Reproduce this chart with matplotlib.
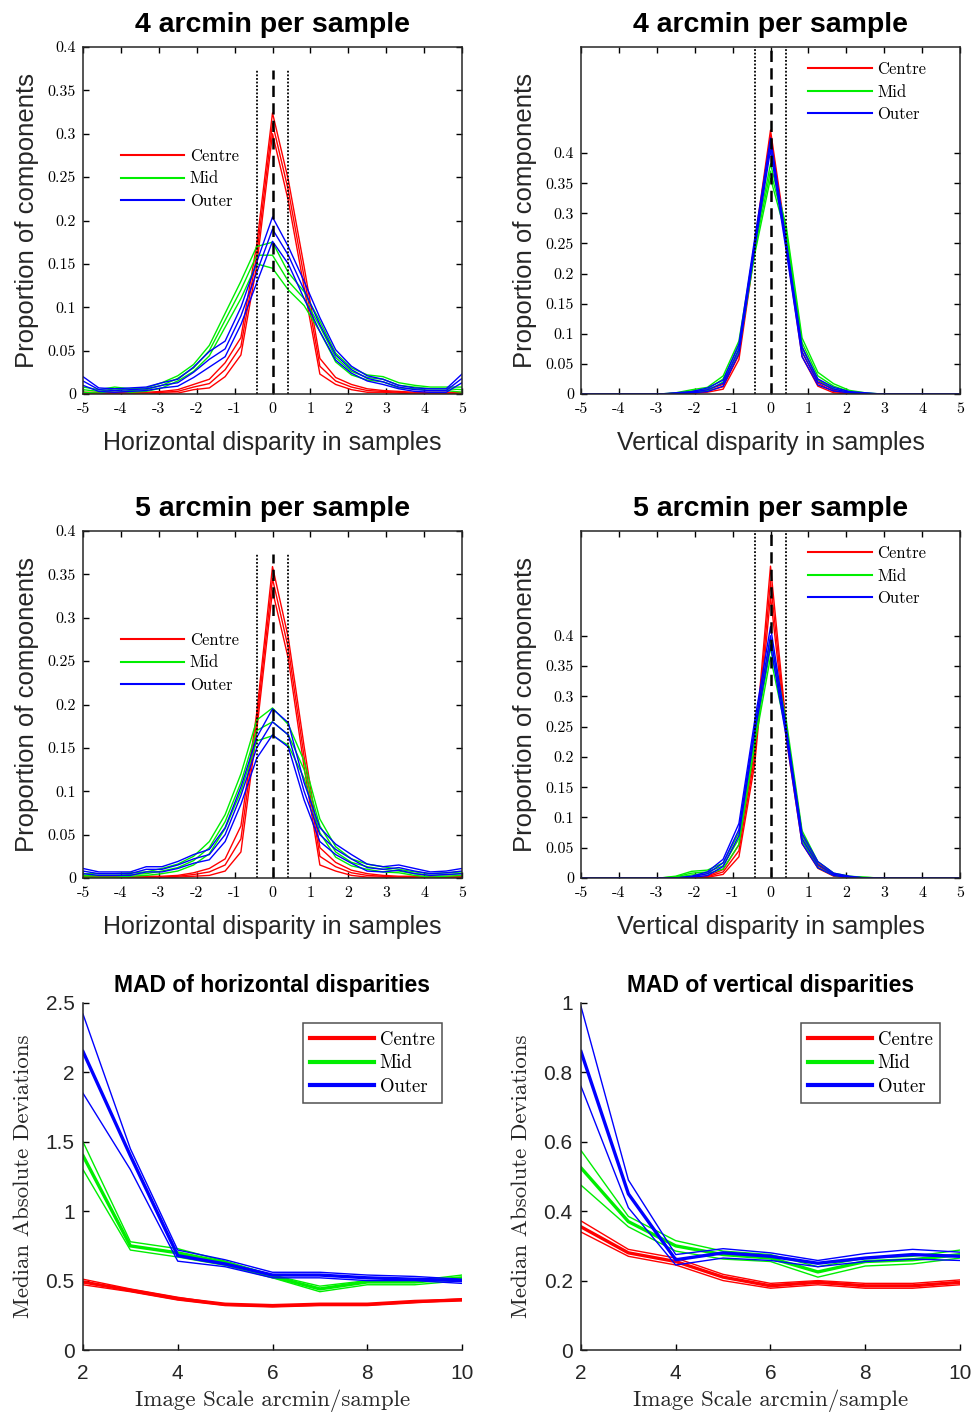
import numpy as np
import matplotlib
matplotlib.use('Agg')
import matplotlib.pyplot as plt

plt.rcParams['axes.unicode_minus'] = False

# ── Disparity histograms: 25 bins from -5 to 5 samples ────────────────────────
BIN_CENTRES = np.linspace(-5, 5, 25)
GROUPS = ['Centre', 'Mid', 'Outer']
COLORS = {'Centre': '#ff0000', 'Mid': '#00ee00', 'Outer': '#0000ff'}

# horizontal, 4 arcmin/sample
H4_CENTRE = [0.001, 0.001, 0.001, 0.001, 0.001, 0.002, 0.003, 0.008, 0.012, 0.028, 0.055, 0.160,
             0.312, 0.235, 0.135, 0.032, 0.015, 0.008, 0.004, 0.003, 0.002, 0.001, 0.001, 0.001, 0.001]
H4_CENTRE_ERR = [0.001, 0.001, 0.001, 0.001, 0.001, 0.001, 0.002, 0.003, 0.005, 0.008, 0.010, 0.012,
                 0.012, 0.012, 0.012, 0.009, 0.004, 0.003, 0.002, 0.001, 0.001, 0.001, 0.001, 0.001, 0.001]
H4_MID = [0.005, 0.003, 0.006, 0.004, 0.005, 0.010, 0.018, 0.030, 0.050, 0.085, 0.120, 0.160,
          0.160, 0.130, 0.110, 0.078, 0.042, 0.026, 0.019, 0.017, 0.010, 0.008, 0.006, 0.006, 0.005]
H4_MID_ERR = [0.003, 0.002, 0.002, 0.002, 0.002, 0.003, 0.003, 0.004, 0.006, 0.008, 0.010, 0.010,
              0.015, 0.010, 0.008, 0.006, 0.005, 0.004, 0.003, 0.003, 0.003, 0.002, 0.002, 0.002, 0.003]
H4_OUTER = [0.015, 0.005, 0.004, 0.005, 0.006, 0.010, 0.013, 0.025, 0.040, 0.052, 0.090, 0.140,
            0.190, 0.160, 0.120, 0.080, 0.045, 0.028, 0.018, 0.014, 0.008, 0.005, 0.004, 0.004, 0.018]
H4_OUTER_ERR = [0.005, 0.002, 0.002, 0.002, 0.002, 0.003, 0.004, 0.006, 0.009, 0.009, 0.010, 0.012,
                0.014, 0.010, 0.010, 0.008, 0.006, 0.004, 0.003, 0.003, 0.002, 0.002, 0.002, 0.002, 0.005]

# vertical, 4 arcmin/sample
V4_CENTRE = [0, 0, 0, 0, 0, 0, 0.001, 0.002, 0.005, 0.012, 0.065, 0.245,
             0.430, 0.250, 0.070, 0.018, 0.004, 0.001, 0, 0, 0, 0, 0, 0, 0]
V4_CENTRE_ERR = [0, 0, 0, 0, 0, 0, 0, 0.001, 0.002, 0.004, 0.008, 0.008,
                 0.008, 0.008, 0.008, 0.005, 0.002, 0.001, 0, 0, 0, 0, 0, 0, 0]
V4_MID = [0, 0, 0, 0, 0, 0, 0.001, 0.005, 0.008, 0.025, 0.080, 0.240,
          0.370, 0.270, 0.085, 0.030, 0.013, 0.004, 0.001, 0, 0, 0, 0, 0, 0]
V4_MID_ERR = [0, 0, 0, 0, 0, 0, 0.001, 0.002, 0.003, 0.005, 0.008, 0.008,
              0.012, 0.008, 0.008, 0.006, 0.004, 0.002, 0.001, 0, 0, 0, 0, 0, 0]
V4_OUTER = [0, 0, 0, 0, 0, 0, 0.001, 0.003, 0.007, 0.018, 0.075, 0.250,
            0.415, 0.245, 0.070, 0.020, 0.008, 0.003, 0.001, 0, 0, 0, 0, 0, 0]
V4_OUTER_ERR = [0, 0, 0, 0, 0, 0, 0.001, 0.001, 0.003, 0.005, 0.008, 0.008,
                0.010, 0.008, 0.008, 0.005, 0.003, 0.001, 0.001, 0, 0, 0, 0, 0, 0]

# horizontal, 5 arcmin/sample
H5_CENTRE = [0.001, 0.001, 0.001, 0.001, 0.001, 0.001, 0.002, 0.004, 0.007, 0.015, 0.045, 0.180,
             0.345, 0.265, 0.140, 0.025, 0.013, 0.006, 0.003, 0.002, 0.001, 0.001, 0.001, 0.001, 0.001]
H5_CENTRE_ERR = [0.001, 0.001, 0.001, 0.001, 0.001, 0.001, 0.001, 0.002, 0.004, 0.007, 0.015, 0.010,
                 0.014, 0.012, 0.012, 0.010, 0.005, 0.003, 0.002, 0.001, 0.001, 0.001, 0.001, 0.001, 0.001]
H5_MID = [0.003, 0.003, 0.003, 0.004, 0.005, 0.008, 0.012, 0.020, 0.035, 0.065, 0.110, 0.170,
          0.180, 0.165, 0.125, 0.060, 0.030, 0.018, 0.013, 0.010, 0.008, 0.005, 0.003, 0.004, 0.005]
H5_MID_ERR = [0.002, 0.002, 0.002, 0.002, 0.002, 0.003, 0.004, 0.005, 0.007, 0.008, 0.010, 0.012,
              0.016, 0.012, 0.010, 0.008, 0.006, 0.004, 0.003, 0.003, 0.002, 0.002, 0.002, 0.002, 0.002]
H5_OUTER = [0.008, 0.005, 0.005, 0.005, 0.010, 0.010, 0.015, 0.022, 0.027, 0.050, 0.095, 0.150,
            0.180, 0.165, 0.100, 0.050, 0.033, 0.022, 0.012, 0.010, 0.012, 0.008, 0.005, 0.006, 0.008]
H5_OUTER_ERR = [0.003, 0.002, 0.002, 0.002, 0.003, 0.003, 0.004, 0.005, 0.006, 0.008, 0.010, 0.012,
                0.015, 0.014, 0.010, 0.008, 0.006, 0.005, 0.004, 0.003, 0.003, 0.003, 0.002, 0.002, 0.003]

# vertical, 5 arcmin/sample
V5_CENTRE = [0, 0, 0, 0, 0, 0, 0, 0.001, 0.002, 0.010, 0.045, 0.200,
             0.490, 0.240, 0.065, 0.020, 0.005, 0.001, 0, 0, 0, 0, 0, 0, 0]
V5_CENTRE_ERR = [0, 0, 0, 0, 0, 0, 0, 0.001, 0.001, 0.004, 0.010, 0.012,
                 0.025, 0.010, 0.008, 0.004, 0.002, 0.001, 0, 0, 0, 0, 0, 0, 0]
V5_MID = [0, 0, 0, 0, 0, 0, 0.002, 0.008, 0.010, 0.020, 0.065, 0.230,
          0.380, 0.250, 0.070, 0.022, 0.006, 0.002, 0.001, 0, 0, 0, 0, 0, 0]
V5_MID_ERR = [0, 0, 0, 0, 0, 0, 0.001, 0.003, 0.003, 0.005, 0.010, 0.010,
              0.015, 0.010, 0.008, 0.005, 0.002, 0.001, 0, 0, 0, 0, 0, 0, 0]
V5_OUTER = [0, 0, 0, 0, 0, 0, 0, 0.002, 0.007, 0.025, 0.080, 0.250,
            0.400, 0.240, 0.065, 0.022, 0.006, 0.002, 0, 0, 0, 0, 0, 0, 0]
V5_OUTER_ERR = [0, 0, 0, 0, 0, 0, 0, 0.001, 0.003, 0.006, 0.010, 0.010,
                0.015, 0.008, 0.008, 0.005, 0.002, 0.001, 0, 0, 0, 0, 0, 0, 0]

# ── MAD vs image scale ────────────────────────────────────────────────────────
SCALES = [2, 3, 4, 5, 6, 7, 8, 9, 10]

MADH_CENTRE     = [0.49, 0.43, 0.37, 0.33, 0.32, 0.33, 0.33, 0.35, 0.36]
MADH_CENTRE_LO  = [0.47, 0.42, 0.36, 0.32, 0.31, 0.32, 0.32, 0.34, 0.36]
MADH_CENTRE_HI  = [0.51, 0.44, 0.38, 0.33, 0.32, 0.33, 0.33, 0.35, 0.37]
MADH_MID        = [1.40, 0.75, 0.70, 0.63, 0.53, 0.44, 0.49, 0.49, 0.52]
MADH_MID_LO     = [1.30, 0.72, 0.67, 0.61, 0.52, 0.42, 0.47, 0.47, 0.50]
MADH_MID_HI     = [1.50, 0.78, 0.73, 0.64, 0.54, 0.46, 0.50, 0.50, 0.54]
MADH_OUTER      = [2.15, 1.40, 0.68, 0.62, 0.54, 0.54, 0.52, 0.51, 0.50]
MADH_OUTER_LO   = [1.85, 1.30, 0.64, 0.60, 0.52, 0.52, 0.50, 0.50, 0.48]
MADH_OUTER_HI   = [2.42, 1.45, 0.72, 0.65, 0.56, 0.56, 0.54, 0.53, 0.51]

MADV_CENTRE     = [0.355, 0.280, 0.255, 0.210, 0.185, 0.195, 0.185, 0.185, 0.195]
MADV_CENTRE_LO  = [0.340, 0.270, 0.245, 0.200, 0.178, 0.188, 0.178, 0.178, 0.188]
MADV_CENTRE_HI  = [0.372, 0.290, 0.265, 0.218, 0.192, 0.200, 0.192, 0.192, 0.202]
MADV_MID        = [0.525, 0.370, 0.300, 0.275, 0.265, 0.225, 0.255, 0.260, 0.275]
MADV_MID_LO     = [0.475, 0.355, 0.285, 0.262, 0.255, 0.210, 0.242, 0.248, 0.265]
MADV_MID_HI     = [0.575, 0.385, 0.315, 0.285, 0.275, 0.240, 0.265, 0.270, 0.288]
MADV_OUTER      = [0.860, 0.450, 0.260, 0.280, 0.270, 0.250, 0.265, 0.275, 0.270]
MADV_OUTER_LO   = [0.760, 0.410, 0.245, 0.265, 0.258, 0.240, 0.255, 0.262, 0.258]
MADV_OUTER_HI   = [0.990, 0.490, 0.275, 0.292, 0.280, 0.258, 0.278, 0.290, 0.282]

SERIF = 'cmr10'
SANS = 'Liberation Sans'
W, H = 973, 1412
AXCOL = '#262626'


def px_rect(left, top, right, bottom):
    return [left / W, 1 - bottom / H, (right - left) / W, (bottom - top) / H]


def hist_panel(rect, series, title, xlabel, ylim_top, vline_top, legend_anchor):
    ax = fig.add_axes(rect)
    for g, (m, e) in zip(GROUPS, series):
        m = np.array(m); e = np.array(e)
        for y in (m + e, m, m - e):
            ax.plot(BIN_CENTRES, np.clip(y, 0, None), color=COLORS[g], lw=1.0,
                    label=g if y is m else None)
    ax.plot([0, 0], [0, vline_top], color='k', lw=1.8, ls=(0, (4.5, 2.5)))
    step = BIN_CENTRES[1] - BIN_CENTRES[0]
    for xv in (-step, step):
        ax.plot([xv, xv], [0, vline_top], color='k', lw=1.3, ls=(0, (1, 1)))
    ax.set_xlim(-5, 5)
    ax.set_ylim(0, ylim_top)
    xt = list(range(-5, 6))
    ax.set_xticks(xt)
    ax.set_xticklabels([str(v) for v in xt], fontfamily=SERIF, fontsize=11.5)
    yt = [0, 0.05, 0.1, 0.15, 0.2, 0.25, 0.3, 0.35, 0.4]
    ax.set_yticks(yt)
    ax.set_yticklabels(['0', '0.05', '0.1', '0.15', '0.2', '0.25', '0.3', '0.35', '0.4'],
                       fontfamily=SERIF, fontsize=11.5)
    ax.tick_params(direction='in', top=True, right=True, length=4, width=1.0, pad=6)
    ax.tick_params(axis='y', pad=5)
    for s in ax.spines.values():
        s.set_linewidth(1.1); s.set_color(AXCOL)
    ax.set_title(title, fontfamily=SANS, fontweight='bold', fontsize=20.5, pad=11)
    ax.set_xlabel(xlabel, fontfamily=SANS, fontsize=18, labelpad=11, color=AXCOL)
    ax.set_ylabel('Proportion of components', fontfamily=SANS, fontsize=18.5,
                  labelpad=6, color=AXCOL)
    leg = ax.legend(loc='upper left', bbox_to_anchor=legend_anchor, frameon=False,
                    handlelength=3.8, handletextpad=0.35, labelspacing=0.42,
                    prop={'family': SERIF, 'size': 12})
    for h in leg.legend_handles:
        h.set_linewidth(1.5)
    return ax


def mad_panel(rect, series, title, ylim_top, yticks, yticklabels):
    ax = fig.add_axes(rect)
    for g, (m, lo, hi) in zip(GROUPS, series):
        ax.plot(SCALES, lo, color=COLORS[g], lw=1.0)
        ax.plot(SCALES, hi, color=COLORS[g], lw=1.0)
        ax.plot(SCALES, m, color=COLORS[g], lw=2.4, label=g)
    ax.set_xlim(2, 10)
    ax.set_ylim(0, ylim_top)
    ax.set_xticks([2, 4, 6, 8, 10])
    ax.set_xticklabels(['2', '4', '6', '8', '10'], fontfamily=SANS, fontsize=15, color=AXCOL)
    ax.set_yticks(yticks)
    ax.set_yticklabels(yticklabels, fontfamily=SANS, fontsize=15, color=AXCOL)
    ax.tick_params(direction='in', length=4, width=1.0)
    ax.tick_params(axis='x', pad=10)
    ax.tick_params(axis='y', pad=6)
    ax.spines['top'].set_visible(False)
    ax.spines['right'].set_visible(False)
    for s in ('left', 'bottom'):
        ax.spines[s].set_linewidth(1.1); ax.spines[s].set_color(AXCOL)
    ax.set_title(title, fontfamily=SANS, fontweight='bold', fontsize=16.5, pad=8)
    ax.set_xlabel('Image Scale arcmin/sample', fontfamily=SERIF, fontsize=16.5,
                  labelpad=5, color=AXCOL)
    ax.set_ylabel('Median Absolute Deviations', fontfamily=SERIF, fontsize=16.5,
                  labelpad=9, color=AXCOL)
    leg = ax.legend(loc='upper right', bbox_to_anchor=(0.947, 0.942), frameon=True,
                    fancybox=False, edgecolor=AXCOL, handlelength=3.4,
                    handletextpad=0.3, labelspacing=0.3, borderpad=0.4,
                    borderaxespad=0.0, prop={'family': SERIF, 'size': 13.5})
    leg.get_frame().set_linewidth(1.1)
    for h in leg.legend_handles:
        h.set_linewidth(3.0)
    return ax


fig = plt.figure(figsize=(W / 100, H / 100), dpi=100)

hist_panel(px_rect(83, 47, 462, 394),
           [(H4_CENTRE, H4_CENTRE_ERR), (H4_MID, H4_MID_ERR), (H4_OUTER, H4_OUTER_ERR)],
           '4 arcmin per sample', 'Horizontal disparity in samples', 0.4, 0.373, (0.06, 0.75))
hist_panel(px_rect(581, 47, 960, 394),
           [(V4_CENTRE, V4_CENTRE_ERR), (V4_MID, V4_MID_ERR), (V4_OUTER, V4_OUTER_ERR)],
           '4 arcmin per sample', 'Vertical disparity in samples', 0.576, 0.576, (0.56, 1.0))
hist_panel(px_rect(83, 531, 462, 878),
           [(H5_CENTRE, H5_CENTRE_ERR), (H5_MID, H5_MID_ERR), (H5_OUTER, H5_OUTER_ERR)],
           '5 arcmin per sample', 'Horizontal disparity in samples', 0.4, 0.373, (0.06, 0.75))
hist_panel(px_rect(581, 531, 960, 878),
           [(V5_CENTRE, V5_CENTRE_ERR), (V5_MID, V5_MID_ERR), (V5_OUTER, V5_OUTER_ERR)],
           '5 arcmin per sample', 'Vertical disparity in samples', 0.573, 0.573, (0.56, 1.0))

mad_panel(px_rect(83, 1003, 462, 1350),
          [(MADH_CENTRE, MADH_CENTRE_LO, MADH_CENTRE_HI),
           (MADH_MID, MADH_MID_LO, MADH_MID_HI),
           (MADH_OUTER, MADH_OUTER_LO, MADH_OUTER_HI)],
          'MAD of horizontal disparities', 2.5,
          [0, 0.5, 1, 1.5, 2, 2.5], ['0', '0.5', '1', '1.5', '2', '2.5'])
mad_panel(px_rect(581, 1003, 960, 1350),
          [(MADV_CENTRE, MADV_CENTRE_LO, MADV_CENTRE_HI),
           (MADV_MID, MADV_MID_LO, MADV_MID_HI),
           (MADV_OUTER, MADV_OUTER_LO, MADV_OUTER_HI)],
          'MAD of vertical disparities', 1.0,
          [0, 0.2, 0.4, 0.6, 0.8, 1], ['0', '0.2', '0.4', '0.6', '0.8', '1'])

fig.savefig('out.png', dpi=100)
